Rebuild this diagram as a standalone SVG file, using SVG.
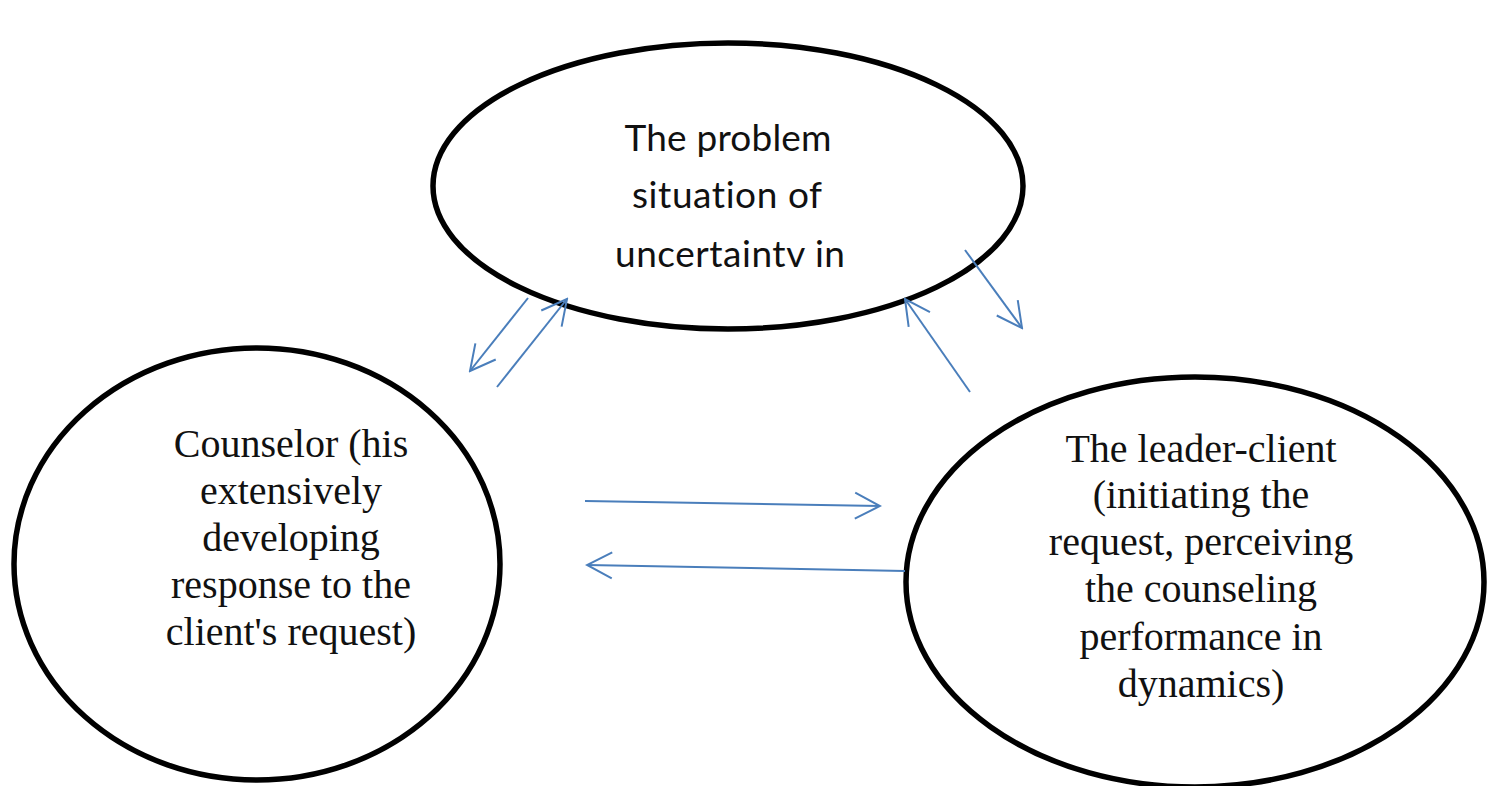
<svg xmlns="http://www.w3.org/2000/svg" width="1490" height="786" viewBox="0 0 1490 786">
<style>
.node{fill:#fff;stroke:#000;stroke-width:5.5}
.sans{font-family:Lato,"Open Sans","Liberation Sans",sans-serif;font-size:37px;fill:#111;text-anchor:middle;font-variant-ligatures:none}
.serif{font-family:"Liberation Serif","DejaVu Serif",serif;font-size:40px;fill:#111;text-anchor:middle}
.conn line{stroke:#4a7ebb;stroke-width:2;fill:none;marker-end:url(#arr)}
</style>
<defs>
<marker id="arr" markerUnits="userSpaceOnUse" viewBox="-30 -16 32 32" markerWidth="32" markerHeight="32" refX="0" refY="0" orient="auto">
<path d="M-25,-13 L0,0 L-25,13" fill="none" stroke="#4a7ebb" stroke-width="2"/>
</marker>
</defs>
<rect width="1490" height="786" fill="#fff"/>
<g id="node-problem">
<ellipse class="node" cx="728" cy="186" rx="295" ry="143"/>
<text class="sans" x="728" y="151" textLength="207" lengthAdjust="spacing">The problem</text>
<text class="sans" x="727" y="208" textLength="190" lengthAdjust="spacing">situation of</text>
<text class="sans" x="730" y="267" textLength="230" lengthAdjust="spacing">uncertaintv in</text>
</g>
<g id="node-counselor">
<ellipse class="node" cx="257" cy="564" rx="243" ry="216"/>
<text class="serif" x="291" y="457">Counselor (his</text>
<text class="serif" x="291" y="504">extensively</text>
<text class="serif" x="291" y="551">developing</text>
<text class="serif" x="291" y="598">response to the</text>
<text class="serif" x="291" y="645">client's request)</text>
</g>
<g id="node-client">
<ellipse class="node" cx="1195" cy="582" rx="289" ry="205"/>
<text class="serif" x="1201" y="462">The leader-client</text>
<text class="serif" x="1201" y="508">(initiating the</text>
<text class="serif" x="1201" y="555">request, perceiving</text>
<text class="serif" x="1201" y="602">the counseling</text>
<text class="serif" x="1201" y="650">performance in</text>
<text class="serif" x="1201" y="697">dynamics)</text>
</g>
<g id="connectors" class="conn">
<line x1="528" y1="298" x2="470" y2="371"/>
<line x1="497" y1="387" x2="567" y2="299"/>
<line x1="965" y1="250" x2="1022" y2="328"/>
<line x1="970" y1="392" x2="905" y2="299"/>
<line x1="585" y1="501" x2="880" y2="506"/>
<line x1="905" y1="571" x2="587" y2="565"/>
</g>
</svg>
